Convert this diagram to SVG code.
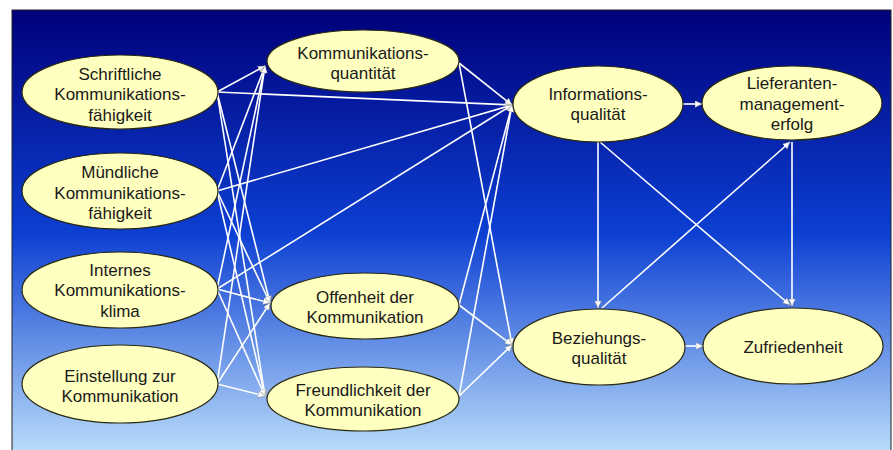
<svg xmlns="http://www.w3.org/2000/svg" width="893" height="450" viewBox="0 0 893 450">
<defs>
<linearGradient id="bg" x1="0" y1="0" x2="0" y2="1">
<stop offset="0" stop-color="#00007a"/>
<stop offset="0.5" stop-color="#0c3fd2"/>
<stop offset="1" stop-color="#bcdffa"/>
</linearGradient>
<marker id="arr" markerUnits="userSpaceOnUse" markerWidth="8" markerHeight="8" refX="7" refY="3.5" orient="auto">
<path d="M0,0 L7,3.5 L0,7 z" fill="#ffffff" stroke="#666" stroke-width="0.4"/>
</marker>
<style>
.n ellipse{fill:#ffffc0;stroke:#2a2a10;stroke-width:1.2}
.n text{font-family:"Liberation Sans",Arial,sans-serif;font-size:17px;fill:#1a1a1a;text-anchor:middle}
#edges line{stroke:#ffffff;stroke-width:1.6;marker-end:url(#arr)}
</style>
</defs>
<rect x="0" y="0" width="893" height="450" fill="#ffffff"/>
<rect x="12" y="10" width="879" height="445" fill="url(#bg)" stroke="#222" stroke-width="1"/>
<g id="edges">
<line x1="217" y1="92" x2="265" y2="66"/>
<line x1="217" y1="191" x2="265" y2="66"/>
<line x1="217" y1="289" x2="265" y2="66"/>
<line x1="217" y1="384" x2="265" y2="66"/>
<line x1="217" y1="92" x2="270" y2="303"/>
<line x1="217" y1="191" x2="270" y2="303"/>
<line x1="217" y1="289" x2="270" y2="303"/>
<line x1="217" y1="384" x2="270" y2="303"/>
<line x1="217" y1="92" x2="265" y2="396"/>
<line x1="217" y1="191" x2="265" y2="396"/>
<line x1="217" y1="289" x2="265" y2="396"/>
<line x1="217" y1="384" x2="265" y2="396"/>
<line x1="217" y1="92" x2="512" y2="105"/>
<line x1="217" y1="191" x2="512" y2="105"/>
<line x1="217" y1="289" x2="512" y2="105"/>
<line x1="459" y1="63" x2="512" y2="105"/>
<line x1="459" y1="305" x2="512" y2="105"/>
<line x1="459" y1="396" x2="512" y2="105"/>
<line x1="459" y1="63" x2="512" y2="345"/>
<line x1="459" y1="305" x2="512" y2="345"/>
<line x1="459" y1="396" x2="512" y2="345"/>
<line x1="683" y1="104" x2="702" y2="104"/>
<line x1="598" y1="142" x2="598" y2="308"/>
<line x1="600" y1="142" x2="790" y2="305"/>
<line x1="602" y1="308" x2="790" y2="142"/>
<line x1="792" y1="142" x2="792" y2="306"/>
<line x1="685" y1="346" x2="703" y2="346"/>
</g>
<g id="schriftlich" class="n"><ellipse cx="120" cy="92" rx="98" ry="37"/><text x="120" y="79.5">Schriftliche</text><text x="120" y="100">Kommunikations-</text><text x="120" y="120.5">fähigkeit</text></g>
<g id="muendlich" class="n"><ellipse cx="120" cy="191" rx="98" ry="38"/><text x="120" y="178">Mündliche</text><text x="120" y="199">Kommunikations-</text><text x="120" y="219">fähigkeit</text></g>
<g id="internes" class="n"><ellipse cx="120" cy="290" rx="98" ry="38"/><text x="120" y="275.5">Internes</text><text x="120" y="296">Kommunikations-</text><text x="120" y="316.5">klima</text></g>
<g id="einstellung" class="n"><ellipse cx="120" cy="384" rx="98" ry="39"/><text x="120" y="382">Einstellung zur</text><text x="120" y="401.5">Kommunikation</text></g>
<g id="quantitaet" class="n"><ellipse cx="363" cy="61" rx="96" ry="31"/><text x="363" y="59">Kommunikations-</text><text x="363" y="78.5">quantität</text></g>
<g id="offenheit" class="n"><ellipse cx="365" cy="306" rx="94" ry="33"/><text x="365" y="303">Offenheit der</text><text x="365" y="323">Kommunikation</text></g>
<g id="freundlichkeit" class="n"><ellipse cx="363" cy="399" rx="96" ry="32"/><text x="363" y="395.5">Freundlichkeit der</text><text x="363" y="416">Kommunikation</text></g>
<g id="infoqual" class="n"><ellipse cx="598" cy="104" rx="85" ry="38"/><text x="598" y="100">Informations-</text><text x="598" y="120">qualität</text></g>
<g id="lieferanten" class="n"><ellipse cx="792" cy="103" rx="90" ry="37"/><text x="792" y="89">Lieferanten-</text><text x="792" y="110">management-</text><text x="792" y="129.5">erfolg</text></g>
<g id="bezqual" class="n"><ellipse cx="599" cy="347" rx="86" ry="38"/><text x="599" y="344">Beziehungs-</text><text x="599" y="364">qualität</text></g>
<g id="zufriedenheit" class="n"><ellipse cx="793" cy="346" rx="90" ry="38"/><text x="793" y="353">Zufriedenheit</text></g>
</svg>
